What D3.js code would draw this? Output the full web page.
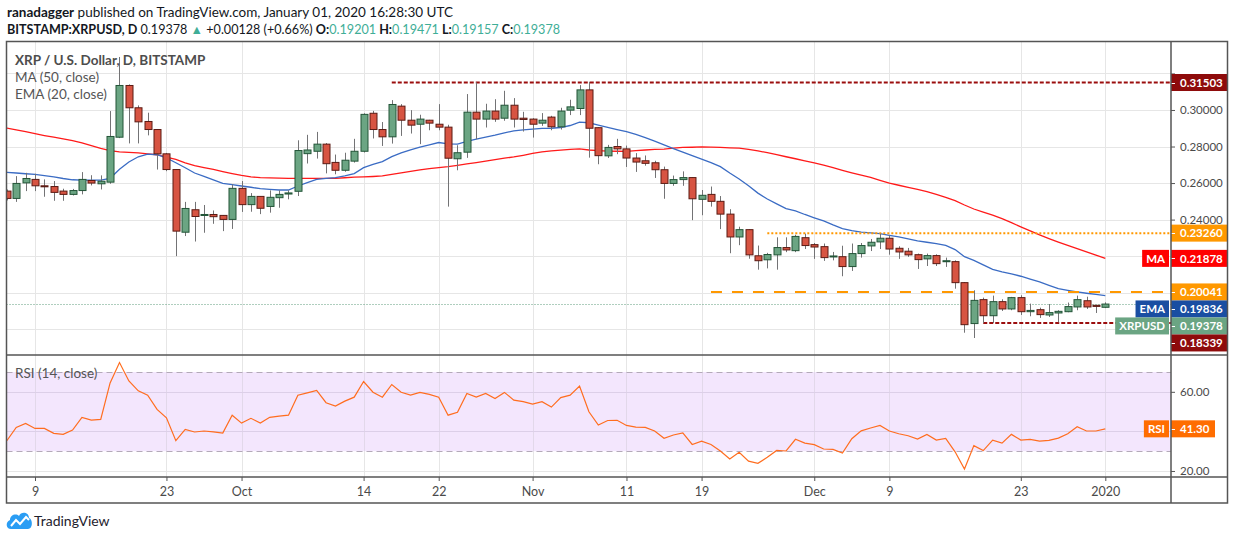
<!DOCTYPE html>
<html>
<head>
<meta charset="utf-8">
<script src="https://cdn.jsdelivr.net/npm/d3@7"></script>
<style>
  body { margin: 0; background: #fff; }
  svg text { font-family: Lato, "Liberation Sans", sans-serif; }
</style>
</head>
<body>
<div id="chart"></div>
<script>
// daily candles, Sep 6 2019 .. Jan 1 2020
var firstDay = "2019-09-06";
var lastDay = "2020-01-01";

var open = [
  // Sep 6-30
  0.2556,0.2516,0.2601,0.2620,0.2585,0.2581,0.2556,0.2538,0.2559,0.2614,0.2596,0.2605,0.2851,0.3134,0.3012,0.2937,0.2893,0.2760,0.2674,0.2331,0.2454,0.2424,0.2428,0.2423,0.2401,
  // Oct
  0.2571,0.2482,0.2527,0.2472,0.2520,0.2540,0.2555,0.2761,0.2774,0.2813,0.2713,0.2670,0.2720,0.2774,0.2982,0.2893,0.2853,0.3021,0.2944,0.2922,0.2944,0.2922,0.2906,0.2733,0.2769,0.2988,0.2950,0.2994,0.2955,0.3026,0.2955,
  // Nov
  0.2950,0.2928,0.2961,0.2908,0.2999,0.3008,0.3110,0.2903,0.2749,0.2800,0.2787,0.2737,0.2722,0.2711,0.2673,0.2598,0.2619,0.2630,0.2511,0.2538,0.2500,0.2430,0.2305,0.2345,0.2202,0.2180,0.2207,0.2247,0.2230,0.2301,
  // Dec
  0.2263,0.2252,0.2198,0.2197,0.2143,0.2214,0.2256,0.2278,0.2298,0.2243,0.2227,0.2208,0.2185,0.2203,0.2170,0.2170,0.2055,0.1831,0.1962,0.1874,0.1951,0.1911,0.1973,0.1896,0.1907,0.1878,0.1889,0.1896,0.1922,0.1956,0.1931,
  // Jan 1
  0.19201
];
var high = [
  0.2565,0.2638,0.2656,0.2651,0.2620,0.2611,0.2569,0.2568,0.2660,0.2643,0.2642,0.2994,0.3290,0.3140,0.3025,0.2985,0.2895,0.2765,0.2676,0.2497,0.2497,0.2480,0.2450,0.2425,0.2592,
  0.2611,0.2545,0.2527,0.2560,0.2560,0.2560,0.2834,0.2864,0.2880,0.2819,0.2756,0.2766,0.2842,0.2982,0.2995,0.2934,0.3054,0.3032,0.2999,0.2974,0.2946,0.3032,0.2919,0.2807,0.3087,0.3151,0.3034,0.3059,0.3105,0.3065,0.2990,
  0.2955,0.2983,0.2968,0.3012,0.3056,0.3136,0.3154,0.2905,0.2809,0.2842,0.2805,0.2764,0.2751,0.2722,0.2690,0.2641,0.2664,0.2632,0.2562,0.2581,0.2529,0.2457,0.2361,0.2348,0.2258,0.2218,0.2303,0.2303,0.2317,0.2323,
  0.2272,0.2269,0.2223,0.2257,0.2269,0.2272,0.2294,0.2323,0.2314,0.2254,0.2245,0.2214,0.2214,0.2210,0.2192,0.2177,0.2058,0.2013,0.1973,0.1984,0.1964,0.1977,0.1986,0.1940,0.1918,0.1938,0.1904,0.1946,0.1984,0.1978,0.1931,
  0.19471
];
var low = [
  0.2505,0.2497,0.2556,0.2556,0.2525,0.2503,0.2503,0.2532,0.2538,0.2587,0.2565,0.2596,0.2846,0.2817,0.2817,0.2861,0.2674,0.2665,0.2200,0.2310,0.2280,0.2328,0.2377,0.2337,0.2349,
  0.2442,0.2443,0.2430,0.2438,0.2465,0.2511,0.2529,0.2707,0.2734,0.2653,0.2648,0.2662,0.2712,0.2767,0.2844,0.2803,0.2816,0.2858,0.2871,0.2813,0.2889,0.2889,0.2471,0.2670,0.2738,0.2840,0.2904,0.2935,0.2941,0.2904,0.2882,
  0.2849,0.2913,0.2889,0.2893,0.2972,0.2972,0.2739,0.2703,0.2737,0.2758,0.2688,0.2661,0.2695,0.2628,0.2514,0.2585,0.2585,0.2397,0.2424,0.2471,0.2348,0.2216,0.2260,0.2186,0.2126,0.2133,0.2126,0.2222,0.2222,0.2239,
  0.2185,0.2174,0.2177,0.2090,0.2119,0.2192,0.2228,0.2239,0.2208,0.2185,0.2196,0.2130,0.2146,0.2146,0.2141,0.2022,0.1781,0.1752,0.1834,0.1834,0.1900,0.1904,0.1878,0.1871,0.1862,0.1867,0.1838,0.1893,0.1904,0.1911,0.1889,
  0.19157
];
var close = [
  0.2516,0.2598,0.2625,0.2585,0.2581,0.2549,0.2538,0.2559,0.2620,0.2600,0.2610,0.2855,0.3134,0.3012,0.2935,0.2893,0.2760,0.2674,0.2337,0.2461,0.2417,0.2428,0.2416,0.2401,0.2571,
  0.2482,0.2527,0.2462,0.2522,0.2538,0.2546,0.2778,0.2781,0.2813,0.2706,0.2670,0.2725,0.2774,0.2976,0.2893,0.2853,0.3030,0.2944,0.2917,0.2950,0.2928,0.2906,0.2736,0.2766,0.2988,0.2950,0.2994,0.2950,0.3026,0.2950,0.2948,
  0.2922,0.2944,0.2908,0.2994,0.3017,0.3110,0.2900,0.2750,0.2795,0.2787,0.2737,0.2715,0.2708,0.2673,0.2598,0.2619,0.2630,0.2514,0.2533,0.2500,0.2430,0.2305,0.2345,0.2207,0.2175,0.2209,0.2247,0.2234,0.2308,0.2258,
  0.2250,0.2192,0.2201,0.2143,0.2214,0.2258,0.2276,0.2298,0.2239,0.2223,0.2207,0.2181,0.2203,0.2159,0.2175,0.2055,0.1825,0.1958,0.1874,0.1951,0.1911,0.1973,0.1896,0.1903,0.1880,0.1891,0.1898,0.1924,0.1962,0.1922,0.1925,
  0.19378
];
// MA (50, close)
var ma50 = [
  0.2901,0.2891,0.2881,0.2870,0.2860,0.2851,0.2842,0.2832,0.2820,0.2805,0.2790,0.2778,0.2771,0.2768,0.2765,0.2760,0.2755,0.2742,0.2729,0.2711,0.2695,0.2685,0.2675,0.2663,0.2652,
  0.2642,0.2634,0.2630,0.2628,0.2627,0.2626,0.2626,0.2626,0.2626,0.2626,0.2626,0.2629,0.2632,0.2634,0.2636,0.2639,0.2648,0.2656,0.2664,0.2672,0.2679,0.2685,0.2690,0.2697,0.2705,0.2712,0.2720,0.2728,0.2736,0.2743,0.2752,
  0.2762,0.2771,0.2776,0.2780,0.2784,0.2787,0.2781,0.2777,0.2775,0.2774,0.2773,0.2777,0.2781,0.2784,0.2786,0.2791,0.2795,0.2796,0.2798,0.2797,0.2795,0.2793,0.2791,0.2784,0.2776,0.2766,0.2755,0.2744,0.2733,0.2722,
  0.2711,0.2698,0.2685,0.2670,0.2656,0.2643,0.2631,0.2615,0.2600,0.2588,0.2576,0.2565,0.2553,0.2538,0.2522,0.2504,0.2480,0.2458,0.2441,0.2425,0.2405,0.2383,0.2360,0.2338,0.2316,0.2296,0.2277,0.2259,0.2241,0.2223,0.2205,
  0.21878
];
// EMA (20, close)
var ema20 = [
  0.2658,0.2655,0.2651,0.2647,0.2641,0.2634,0.2625,0.2618,0.2616,0.2616,0.2616,0.2626,0.2676,0.2715,0.2744,0.2758,0.2755,0.2738,0.2711,0.2684,0.2655,0.2637,0.2617,0.2598,0.2592,
  0.2584,0.2577,0.2569,0.2565,0.2562,0.2562,0.2584,0.2602,0.2620,0.2626,0.2630,0.2639,0.2652,0.2684,0.2702,0.2717,0.2745,0.2765,0.2782,0.2797,0.2809,0.2822,0.2814,0.2813,0.2828,0.2840,0.2852,0.2862,0.2875,0.2886,0.2891,
  0.2895,0.2899,0.2900,0.2904,0.2915,0.2933,0.2930,0.2917,0.2905,0.2893,0.2881,0.2866,0.2849,0.2830,0.2809,0.2789,0.2769,0.2750,0.2731,0.2712,0.2690,0.2655,0.2622,0.2585,0.2545,0.2513,0.2486,0.2460,0.2448,0.2428,
  0.2410,0.2393,0.2371,0.2351,0.2340,0.2331,0.2327,0.2323,0.2314,0.2305,0.2294,0.2283,0.2276,0.2269,0.2259,0.2236,0.2197,0.2177,0.2152,0.2128,0.2114,0.2103,0.2090,0.2074,0.2059,0.2040,0.2022,0.2013,0.2004,0.1997,0.1991,
  0.19836
];
// RSI (14, close)
var rsi14 = [
  35.3,42.0,44.0,41.5,41.5,39.0,38.5,40.7,47.1,45.7,46.1,64.5,74.8,65.5,60.5,58.3,51.1,46.9,35.3,41.0,39.7,40.2,39.8,39.2,48.2,
  44.2,46.6,44.2,47.1,47.7,48.2,58.3,59.5,60.7,54.5,52.8,55.3,57.3,65.2,59.8,57.3,63.7,59.8,58.3,59.7,58.7,57.3,48.2,49.7,59.2,57.3,59.2,56.6,59.7,55.8,55.0,
  53.8,55.0,52.3,57.1,58.3,62.9,49.9,43.2,45.5,45.6,43.0,42.2,42.0,40.2,36.5,38.2,39.2,33.4,35.1,33.4,30.1,26.1,29.4,25.0,23.9,26.9,30.4,30.1,36.0,34.1,
  33.3,31.1,30.9,29.1,36.3,40.3,41.7,43.0,40.2,38.8,37.8,36.1,38.5,35.6,36.5,29.7,21.0,32.8,30.3,35.6,34.1,38.5,35.6,36.0,35.1,35.5,36.6,38.8,42.4,40.2,40.2,
  41.30
];

// drawn horizontal levels
var levelPrices = [0.31503, 0.23260, 0.20041, 0.18339];
var levelStarts = ["2019-10-17", "2019-11-26", "2019-11-20", "2019-12-19"];

var dateTicks = ["2019-09-09","2019-09-23","2019-10-01","2019-10-14","2019-10-22","2019-11-01",
                 "2019-11-11","2019-11-19","2019-12-01","2019-12-09","2019-12-23","2020-01-01"];
var dateTickLabels = ["9","23","Oct","14","22","Nov","11","19","Dec","9","23","2020"];
var priceTicks = [0.18, 0.20, 0.22, 0.24, 0.26, 0.28, 0.30, 0.32];
var rsiTicks = [20, 40, 60];

// ---- layout ----
var W = 1234, H = 540;
var L = 6.5, R = 1227.5, AX = 1171;      // frame left/right, price axis line
var top1 = 41.5, bot1 = 355, bot2 = 477, bot3 = 503;

var parse = d3.utcParse("%Y-%m-%d");
var days = d3.utcDay.range(parse(firstDay), d3.utcDay.offset(parse(lastDay), 1));

var x = d3.scaleUtc()
    .domain([parse("2019-09-09"), parse("2020-01-01")])
    .range([35, 1105.3]);
var y = d3.scaleLinear().domain([0.1659, 0.3372]).range([355, 42]);
var yR = d3.scaleLinear().domain([16.96, 78.6]).range([477, 355]);

var svg = d3.select("#chart").append("svg")
    .attr("width", W)
    .attr("height", H);

var defs = svg.append("defs");
defs.append("clipPath").attr("id", "clipMain")
  .append("rect").attr("x", L + 0.5).attr("y", top1).attr("width", AX - L - 0.5).attr("height", bot1 - top1);
defs.append("clipPath").attr("id", "clipRsi")
  .append("rect").attr("x", L + 0.5).attr("y", bot1).attr("width", AX - L - 0.5).attr("height", bot2 - bot1);

// ---- header ----
var t1 = svg.append("text").attr("x", 7).attr("y", 17)
    .attr("font-size", 13.5).attr("fill", "#131722");
t1.append("tspan").attr("font-weight", "bold").text("ranadagger");
t1.append("tspan").text(" published on TradingView.com, January 01, 2020 16:28:30 UTC");

var teal = "#3fae97";
var last = close.length - 1;
var chg = close[last] - close[last - 1];
var t2 = svg.append("text").attr("x", 7).attr("y", 34)
    .attr("font-size", 12.6).attr("fill", "#131722");
t2.append("tspan").attr("font-weight", "bold").text("BITSTAMP:XRPUSD, D");
t2.append("tspan").text(" " + d3.format(".5f")(close[last]) + " ");
t2.append("tspan").attr("fill", teal).text("\u25B2");
t2.append("tspan").text(" " + d3.format("+.5f")(chg) + " (" + d3.format("+.2%")(chg / close[last - 1]) + ") ");
[["O:", open[last]], ["H:", high[last]], ["L:", low[last]], ["C:", close[last]]].forEach(function(p, i) {
  t2.append("tspan").attr("font-weight", "bold").text((i ? " " : "") + p[0]);
  t2.append("tspan").attr("fill", teal).text(d3.format(".5f")(p[1]));
});

// ---- grid ----
var grid = svg.append("g").attr("stroke", "#e6e6e6").attr("stroke-width", 1);
dateTicks.forEach(function(d) {
  var xx = Math.round(x(parse(d))) + 0.5;
  grid.append("line").attr("x1", xx).attr("x2", xx).attr("y1", top1).attr("y2", bot2);
});
priceTicks.forEach(function(p) {
  var yy = Math.round(y(p)) + 0.5;
  grid.append("line").attr("x1", L).attr("x2", AX).attr("y1", yy).attr("y2", yy);
});

// ---- RSI pane background ----
var rsiG = svg.append("g");
rsiG.append("rect")
    .attr("x", L + 0.5).attr("width", AX - L - 0.5)
    .attr("y", yR(70)).attr("height", yR(30) - yR(70))
    .attr("fill", "#f3e6fd");
dateTicks.forEach(function(d) {
  var xx = Math.round(x(parse(d))) + 0.5;
  rsiG.append("line").attr("x1", xx).attr("x2", xx).attr("y1", yR(70)).attr("y2", yR(30))
      .attr("stroke", "#e2d8ea");
});
rsiTicks.forEach(function(v) {
  var yy = Math.round(yR(v)) + 0.5;
  rsiG.append("line").attr("x1", L).attr("x2", AX).attr("y1", yy).attr("y2", yy)
      .attr("stroke", v === 20 ? "#e6e6e6" : "#dccfe8");
});
[70, 30].forEach(function(v) {
  var yy = Math.round(yR(v)) + 0.5;
  rsiG.append("line").attr("x1", L).attr("x2", AX).attr("y1", yy).attr("y2", yy)
      .attr("stroke", "#b4aab9").attr("stroke-dasharray", "6,4");
});

// ---- main pane: lines, levels, candles ----
var main = svg.append("g").attr("clip-path", "url(#clipMain)");

var maLine = d3.line().x(function(d, i) { return x(days[i]); }).y(function(d) { return y(d); });
main.append("path").attr("d", maLine(ma50)).attr("fill", "none")
    .attr("stroke", "#ff1a1a").attr("stroke-width", 1.3);
main.append("path").attr("d", maLine(ema20)).attr("fill", "none")
    .attr("stroke", "#3b6cc4").attr("stroke-width", 1.3);

// current price dotted line
var yLast = Math.round(y(close[last])) + 0.5;
main.append("line").attr("x1", L).attr("x2", AX).attr("y1", yLast).attr("y2", yLast)
    .attr("stroke", "#5f9c7c").attr("stroke-width", 1).attr("stroke-dasharray", "1,2");

var levelStyle = [
  { stroke: "#9b0e0e", dash: "4,2" },
  { stroke: "#ff9800", dash: "2,2" },
  { stroke: "#ff9800", dash: "11,10" },
  { stroke: "#9b0e0e", dash: "4,2" }
];
levelPrices.forEach(function(p, i) {
  var yy = y(p);
  main.append("line")
      .attr("x1", x(parse(levelStarts[i]))).attr("x2", AX)
      .attr("y1", yy).attr("y2", yy)
      .attr("stroke", levelStyle[i].stroke).attr("stroke-width", 2)
      .attr("stroke-dasharray", levelStyle[i].dash);
});

var candles = main.selectAll("g.candle")
    .data(days)
    .enter()
    .append("g")
    .attr("class", "candle");

candles.append("line")
    .attr("x1", function(d) { return Math.round(x(d)) + 0.5; })
    .attr("x2", function(d) { return Math.round(x(d)) + 0.5; })
    .attr("y1", function(d, i) { return y(high[i]); })
    .attr("y2", function(d, i) { return y(low[i]); })
    .attr("stroke", "#737375")
    .attr("stroke-width", 1);

candles.append("rect")
    .attr("x", function(d) { return Math.round(x(d)) - 3; })
    .attr("width", 7)
    .attr("y", function(d, i) { return y(Math.max(open[i], close[i])); })
    .attr("height", function(d, i) { return Math.max(1, Math.abs(y(open[i]) - y(close[i]))); })
    .attr("fill", function(d, i) { return close[i] >= open[i] ? "#6ba583" : "#d75442"; })
    .attr("stroke", function(d, i) { return close[i] >= open[i] ? "#225437" : "#5b1a13"; })
    .attr("stroke-width", 1);

// ---- RSI line ----
svg.append("g").attr("clip-path", "url(#clipRsi)")
  .append("path")
    .attr("d", d3.line().x(function(d, i) { return x(days[i]); }).y(function(d) { return yR(d); })(rsi14))
    .attr("fill", "none")
    .attr("stroke", "#ff6d1f")
    .attr("stroke-width", 1.2);

// ---- pane legends ----
var leg = svg.append("g").attr("font-size", 13.5).attr("fill", "#555");
leg.append("text").attr("x", 15).attr("y", 65).attr("font-weight", "bold").attr("fill", "#4d4d4d")
    .text("XRP / U.S. Dollar, D, BITSTAMP");
leg.append("text").attr("x", 15).attr("y", 82).text("MA (50, close)");
leg.append("text").attr("x", 15).attr("y", 99).text("EMA (20, close)");
leg.append("text").attr("x", 15).attr("y", 378).text("RSI (14, close)");

// ---- price tags (stacked so they don't overlap) ----
var tags = [
  { v: levelPrices[0], bg: "#8e0b0b" },
  { v: levelPrices[1], bg: "#ff9800" },
  { v: ma50[last], bg: "#ff0000", name: "MA" },
  { v: levelPrices[2], bg: "#ff9800" },
  { v: ema20[last], bg: "#1a4ea2", name: "EMA" },
  { v: close[last], bg: "#6ba583", name: "XRPUSD" },
  { v: levelPrices[3], bg: "#8e0b0b" }
];
tags.sort(function(a, b) { return b.v - a.v; });
var prevY = -1e9;
tags.forEach(function(t) {
  t.y = Math.max(y(t.v), prevY + 17);
  prevY = t.y;
});
var rsiTagY = yR(rsi14[last]);

// ---- axes (tick labels that sit under a tag are dropped) ----
function styleAxis(g, tagYs) {
  g.select(".domain").remove();
  g.selectAll(".tick line").attr("stroke", "#555");
  g.selectAll(".tick text").attr("fill", "#4a4a4a").attr("font-size", 11.5)
      .attr("font-family", "'Liberation Sans', sans-serif");
  if (tagYs) {
    g.selectAll(".tick").each(function() {
      var ty = +this.getAttribute("transform").match(/,([-\d.]+)/)[1];
      var hidden = tagYs.some(function(v) { return Math.abs(v - ty) < 12; });
      if (hidden) d3.select(this).select("text").remove();
    });
  }
}
var tagYs = tags.map(function(t) { return t.y; });
svg.append("g").attr("transform", "translate(" + AX + ",0)")
    .call(d3.axisRight(y).tickValues(priceTicks).tickFormat(d3.format(".5f")).tickSize(4).tickPadding(5))
    .call(styleAxis, tagYs);
svg.append("g").attr("transform", "translate(" + AX + ",0)")
    .call(d3.axisRight(yR).tickValues(rsiTicks).tickFormat(d3.format(".2f")).tickSize(4).tickPadding(5))
    .call(styleAxis, [rsiTagY]);
svg.append("g").attr("transform", "translate(0," + bot2 + ")")
    .call(d3.axisBottom(x).tickValues(dateTicks.map(parse))
      .tickFormat(function(d, i) { return dateTickLabels[i]; }).tickSize(4).tickPadding(6))
    .call(styleAxis)
    .call(function(g) { g.selectAll(".tick text").attr("font-size", 12.5); });

function drawTag(g, yy, text, bg, name, valW) {
  var h = 17;
  g.append("rect").attr("x", AX).attr("y", yy - h / 2).attr("width", valW).attr("height", h).attr("fill", bg);
  g.append("line").attr("x1", AX).attr("x2", AX + 4).attr("y1", Math.round(yy) + 0.5).attr("y2", Math.round(yy) + 0.5)
      .attr("stroke", "#fff");
  g.append("text").attr("x", AX + 9).attr("y", yy + 4.2).attr("fill", "#fff")
      .attr("font-size", 11.5).attr("font-weight", "bold")
      .attr("font-family", "'Liberation Sans', sans-serif").text(text);
  if (name) {
    var nt = g.append("text").attr("y", yy + 4.2).attr("fill", "#fff")
        .attr("font-size", 11.5).attr("font-weight", "bold")
        .attr("font-family", "'Liberation Sans', sans-serif").text(name);
    var w = nt.node().getComputedTextLength() + 8;
    g.insert("rect", "text").attr("x", AX - 2 - w).attr("y", yy - h / 2).attr("width", w).attr("height", h).attr("fill", bg);
    nt.attr("x", AX - 2 - w + 4);
  }
}
var tagG = svg.append("g");
tags.forEach(function(t) {
  drawTag(tagG.append("g"), t.y, d3.format(".5f")(t.v), t.bg, t.name, 56);
});
drawTag(svg.append("g"), rsiTagY, d3.format(".2f")(rsi14[last]), "#ff6d00", "RSI", 44);

// ---- frame ----
var frame = svg.append("g").attr("stroke", "#555").attr("stroke-width", 1.5).attr("fill", "none");
frame.append("rect").attr("x", L).attr("y", top1).attr("width", R - L).attr("height", bot3 - top1);
frame.append("line").attr("x1", L).attr("x2", R).attr("y1", bot1).attr("y2", bot1);
frame.append("line").attr("x1", L).attr("x2", R).attr("y1", bot2).attr("y2", bot2);
frame.append("line").attr("x1", AX).attr("x2", AX).attr("y1", top1).attr("y2", bot3);

// ---- TradingView mark ----
var logo = svg.append("g");
logo.append("path")
    .attr("d", "M11,529 C6,529 5,522 10,520 C10,515 16,513 19,516 C21,511 29,512 29,518 C33,519 33,529 28,529 Z")
    .attr("fill", "#2a9df4");
logo.append("polyline")
    .attr("points", "11,526 16,520 20,524 26,517 29,520")
    .attr("fill", "none").attr("stroke", "#fff").attr("stroke-width", 2);
logo.append("text").attr("x", 34).attr("y", 526).attr("font-size", 14).attr("fill", "#1e222d")
    .text("TradingView");
</script>
</body>
</html>
